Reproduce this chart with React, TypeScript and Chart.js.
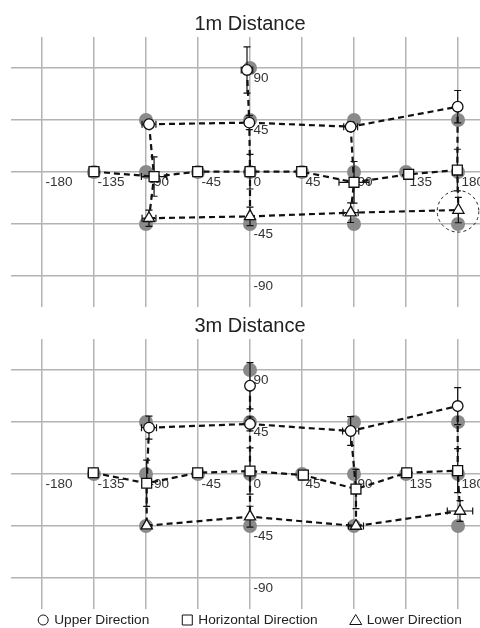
import React, { useEffect, useRef } from 'react';
import { Chart, registerables } from 'chart.js';

Chart.register(...registerables);

const FONT = "'Liberation Sans', Arial, Helvetica, sans-serif";

// Axes (azimuth / elevation, degrees)
const X_TICKS = [-180, -135, -90, -45, 0, 45, 90, 135, 180];
const Y_TICKS = [-90, -45, 0, 45, 90];
const Y_LABEL_TICKS = [-90, -45, 45, 90];
const X_MIN = -206.8;
const X_MAX = 206.8;
const Y_MIN = -116.8;
const Y_MAX = 116.8;

// Target (source) positions – gray dots
const TARGET_AZ = [-90, 0, 0, 90, 180, -135, -90, -45, 0, 45, 90, 135, 180, -90, 0, 90, 180];
const TARGET_EL = [45, 90, 45, 45, 45, 0, 0, 0, 0, 0, 0, 0, 0, -45, -45, -45, -45];

// ---- 1m distance ----
const UP1_AZ = [-87.4, -2.6, -0.6, 87.1, 179.7];
const UP1_EL = [41.3, 88.3, 42.7, 39.2, 56.5];
const UP1_EX = [6, 5, 3, 6, 0];
const UP1_EY = [3, 20, 6, 4, 14];

const HOR1_AZ = [-135, -83, -45.3, 0, 44.7, 90, 137.3, 179.4];
const HOR1_EL = [0.3, -4, 0.3, 0.3, 0.3, -8.9, -2, 1.7];
const HOR1_EX = [0, 11, 0, 0, 0, 13, 3, 0];
const HOR1_EY = [0, 17, 0, 15, 0, 18, 0, 18];

const LOW1_AZ = [-87.4, 0, 87.1, 180.3];
const LOW1_EL = [-40, -38.4, -35.2, -32.9];
const LOW1_EX = [6, 0, 6.5, 0];
const LOW1_EY = [7, 8, 8.5, 11];

// highlighted point (dashed circle) in 1m panel
const HIGHLIGHT1_AZ = [180];
const HIGHLIGHT1_EL = [-34];
const HIGHLIGHT1_R = [18];

// ---- 3m distance ----
const UP3_AZ = [-87.4, 0, 0, 87.1, 179.7];
const UP3_EL = [40.1, 76.4, 43.3, 37.2, 58.8];
const UP3_EX = [6.5, 0, 3, 7, 0];
const UP3_EY = [10, 20, 6, 12.5, 16];

const HOR3_AZ = [-135.6, -89.4, -45.3, 0, 46.2, 91.7, 135.6, 179.7];
const HOR3_EL = [1.1, -8, 1.1, 2.6, -0.9, -13, 1.1, 2.9];
const HOR3_EX = [0, 0, 0, 0, 0, 0, 0, 0];
const HOR3_EY = [0, 20, 0, 20, 0, 17, 0, 19];

const LOW3_AZ = [-89.4, 0, 91.7, 181.7];
const LOW3_EL = [-44.7, -36.9, -45, -32];
const LOW3_EX = [0, 0, 6.5, 11];
const LOW3_EY = [0, 9, 0, 9];

// Connection structure
const UPPER_ROW_IDX = [0, 2, 3, 4];
const COLUMNS: [string, number][][] = [
  [['U', 0], ['H', 1], ['L', 0]],
  [['U', 1], ['U', 2], ['H', 3], ['L', 1]],
  [['U', 3], ['H', 5], ['L', 2]],
  [['U', 4], ['H', 7], ['L', 3]],
];

const LEGEND_LABELS = ['Upper Direction', 'Horizontal Direction', 'Lower Direction'];

const pts = (az: number[], el: number[]) => az.map((a, i) => ({ x: a, y: el[i] }));

const tickLabelPlugin = {
  id: 'tickLabels',
  beforeDatasetsDraw(chart: any) {
    const { ctx } = chart;
    const xs = chart.scales.x;
    const ys = chart.scales.y;
    const x0 = xs.getPixelForValue(0);
    const y0 = ys.getPixelForValue(0);
    ctx.save();
    ctx.font = `13.5px ${FONT}`;
    ctx.fillStyle = '#333';
    ctx.textAlign = 'left';
    ctx.textBaseline = 'middle';
    X_TICKS.forEach((v) => {
      ctx.fillText(String(v), xs.getPixelForValue(v) + 3.5, y0 + 10.5);
    });
    Y_LABEL_TICKS.forEach((v) => {
      ctx.fillText(String(v), x0 + 3.5, ys.getPixelForValue(v) + 10.5);
    });
    ctx.restore();
  },
};

const errorBarPlugin = {
  id: 'errorBars',
  beforeDatasetDraw(chart: any, args: any) {
    const ds = chart.data.datasets[args.index];
    if (!ds.errX) return;
    const { ctx } = chart;
    const xs = chart.scales.x;
    const ys = chart.scales.y;
    const cap = 3.5;
    ctx.save();
    ctx.strokeStyle = '#111';
    ctx.lineWidth = 1.2;
    ctx.setLineDash([]);
    ds.data.forEach((p: any, i: number) => {
      const px = xs.getPixelForValue(p.x);
      const py = ys.getPixelForValue(p.y);
      const ex = ds.errX[i];
      const ey = ds.errY[i];
      ctx.beginPath();
      if (ex > 0) {
        const x1 = xs.getPixelForValue(p.x - ex);
        const x2 = xs.getPixelForValue(p.x + ex);
        ctx.moveTo(x1, py); ctx.lineTo(x2, py);
        ctx.moveTo(x1, py - cap); ctx.lineTo(x1, py + cap);
        ctx.moveTo(x2, py - cap); ctx.lineTo(x2, py + cap);
      }
      if (ey > 0) {
        const y1 = ys.getPixelForValue(p.y + ey);
        const y2 = ys.getPixelForValue(p.y - ey);
        ctx.moveTo(px, y1); ctx.lineTo(px, y2);
        ctx.moveTo(px - cap, y1); ctx.lineTo(px + cap, y1);
        ctx.moveTo(px - cap, y2); ctx.lineTo(px + cap, y2);
      }
      ctx.stroke();
    });
    ctx.restore();
  },
};

const highlightPlugin = {
  id: 'highlight',
  afterDatasetsDraw(chart: any) {
    const hl = chart.config.options.highlight;
    if (!hl) return;
    const { ctx } = chart;
    const xs = chart.scales.x;
    const ys = chart.scales.y;
    ctx.save();
    ctx.strokeStyle = '#222';
    ctx.lineWidth = 1;
    ctx.setLineDash([3, 3]);
    hl.az.forEach((a: number, i: number) => {
      const cx = xs.getPixelForValue(a);
      const cy = ys.getPixelForValue(hl.el[i]);
      const r = Math.abs(xs.getPixelForValue(a + hl.r[i]) - cx);
      ctx.beginPath();
      ctx.arc(cx, cy, r, 0, Math.PI * 2);
      ctx.stroke();
    });
    ctx.restore();
  },
};

const legendPlugin = {
  id: 'markerLegend',
  afterDraw(chart: any) {
    if (!chart.config.options.markerLegend) return;
    const { ctx, chartArea } = chart;
    const items = chart.data.datasets.filter((d: any) => d.legendMarker);
    const fontSize = 13.7;
    const sym = 10;
    const gapSym = 6;
    const gapItem = 33;
    ctx.save();
    ctx.font = `${fontSize}px ${FONT}`;
    const widths = items.map((d: any) => ctx.measureText(d.label).width);
    const total = widths.reduce((s: number, w: number) => s + sym + gapSym + w, 0) + gapItem * (items.length - 1);
    let x = (chartArea.left + chartArea.right) / 2 - total / 2;
    const y = chartArea.bottom + 11;
    items.forEach((d: any, i: number) => {
      const cx = x + sym / 2;
      ctx.beginPath();
      ctx.setLineDash([]);
      ctx.lineWidth = 1;
      ctx.strokeStyle = '#111';
      ctx.fillStyle = '#fff';
      if (d.pointStyle === 'circle') {
        ctx.arc(cx, y, 5, 0, Math.PI * 2);
      } else if (d.pointStyle === 'rect') {
        ctx.rect(cx - 5, y - 5, 10, 10);
      } else {
        ctx.moveTo(cx, y - 5.5);
        ctx.lineTo(cx + 6, y + 4.5);
        ctx.lineTo(cx - 6, y + 4.5);
        ctx.closePath();
      }
      ctx.fill();
      ctx.stroke();
      ctx.fillStyle = '#222';
      ctx.textAlign = 'left';
      ctx.textBaseline = 'middle';
      ctx.fillText(d.label, x + sym + gapSym, y + 0.5);
      x += sym + gapSym + widths[i] + gapItem;
    });
    ctx.restore();
  },
};

type PanelData = {
  title: string;
  up: { x: number; y: number }[]; upEx: number[]; upEy: number[];
  hor: { x: number; y: number }[]; horEx: number[]; horEy: number[];
  low: { x: number; y: number }[]; lowEx: number[]; lowEy: number[];
  highlight?: { az: number[]; el: number[]; r: number[] };
  legend: boolean;
  bottomPad: number;
};

function makeConfig(p: PanelData): any {
  const series: Record<string, { x: number; y: number }[]> = { U: p.up, H: p.hor, L: p.low };
  const lineStyle = {
    showLine: true,
    borderColor: '#111',
    borderWidth: 2.2,
    borderDash: [6, 4],
    pointRadius: 0,
    pointHoverRadius: 0,
    fill: false,
    tension: 0,
    order: 2,
  };
  const datasets: any[] = [
    {
      label: 'targets',
      data: pts(TARGET_AZ, TARGET_EL),
      pointRadius: 7,
      pointBackgroundColor: '#8a8a8a',
      pointBorderWidth: 0,
      showLine: false,
      order: 3,
    },
    { label: 'upper-row', data: UPPER_ROW_IDX.map((i) => p.up[i]), ...lineStyle },
    { label: 'hor-row', data: p.hor, ...lineStyle },
    { label: 'low-row', data: p.low, ...lineStyle },
    ...COLUMNS.map((col, ci) => ({
      label: 'col-' + ci,
      data: col.map(([s, i]) => series[s][i]),
      ...lineStyle,
    })),
    {
      label: LEGEND_LABELS[0], legendMarker: true, pointStyle: 'circle',
      data: p.up, errX: p.upEx, errY: p.upEy,
      pointRadius: 5.3, pointBackgroundColor: '#fff', pointBorderColor: '#111', pointBorderWidth: 1.3,
      showLine: false, order: 0,
    },
    {
      label: LEGEND_LABELS[1], legendMarker: true, pointStyle: 'rect',
      data: p.hor, errX: p.horEx, errY: p.horEy,
      pointRadius: 7, pointBackgroundColor: '#fff', pointBorderColor: '#111', pointBorderWidth: 1.3,
      showLine: false, order: 0,
    },
    {
      label: LEGEND_LABELS[2], legendMarker: true, pointStyle: 'triangle',
      data: p.low, errX: p.lowEx, errY: p.lowEy,
      pointRadius: 6.5, pointBackgroundColor: '#fff', pointBorderColor: '#111', pointBorderWidth: 1.3,
      showLine: false, order: 0,
    },
  ];
  const grid = { color: '#b3b3b3', lineWidth: 1.5, drawTicks: false };
  return {
    type: 'scatter',
    data: { datasets },
    options: {
      animation: false,
      responsive: false,
      devicePixelRatio: 1,
      events: [],
      highlight: p.highlight,
      markerLegend: p.legend,
      layout: { autoPadding: false, padding: { left: 11, right: 11, top: 0, bottom: p.bottomPad } },
      plugins: {
        legend: { display: false },
        tooltip: { enabled: false },
        title: {
          display: true,
          text: p.title,
          color: '#222',
          font: { family: FONT, size: 20, weight: 'normal', lineHeight: 1.2 },
          padding: { top: 12, bottom: 1 },
        },
      },
      scales: {
        x: {
          type: 'linear',
          min: X_MIN,
          max: X_MAX,
          grid,
          border: { display: false },
          ticks: { display: false },
          afterBuildTicks: (scale: any) => { scale.ticks = X_TICKS.map((v) => ({ value: v })); },
        },
        y: {
          type: 'linear',
          min: Y_MIN,
          max: Y_MAX,
          grid,
          border: { display: false },
          ticks: { display: false },
          afterBuildTicks: (scale: any) => { scale.ticks = Y_TICKS.map((v) => ({ value: v })); },
        },
      },
    },
    plugins: [tickLabelPlugin, errorBarPlugin, highlightPlugin, legendPlugin],
  };
}

const PANEL_1M: PanelData = {
  title: '1m Distance',
  up: pts(UP1_AZ, UP1_EL), upEx: UP1_EX, upEy: UP1_EY,
  hor: pts(HOR1_AZ, HOR1_EL), horEx: HOR1_EX, horEy: HOR1_EY,
  low: pts(LOW1_AZ, LOW1_EL), lowEx: LOW1_EX, lowEy: LOW1_EY,
  highlight: { az: HIGHLIGHT1_AZ, el: HIGHLIGHT1_EL, r: HIGHLIGHT1_R },
  legend: false,
  bottomPad: 3,
};

const PANEL_3M: PanelData = {
  title: '3m Distance',
  up: pts(UP3_AZ, UP3_EL), upEx: UP3_EX, upEy: UP3_EY,
  hor: pts(HOR3_AZ, HOR3_EL), horEx: HOR3_EX, horEy: HOR3_EY,
  low: pts(LOW3_AZ, LOW3_EL), lowEx: LOW3_EX, lowEy: LOW3_EY,
  legend: true,
  bottomPad: 19,
};

function Panel({ data, top, height }: { data: PanelData; top: number; height: number }) {
  const ref = useRef<HTMLCanvasElement>(null);
  useEffect(() => {
    if (!ref.current) return;
    const chart = new Chart(ref.current, makeConfig(data));
    return () => chart.destroy();
  }, [data]);
  return (
    <canvas
      ref={ref}
      width={500}
      height={height}
      style={{ position: 'absolute', left: 0, top, width: 500, height, display: 'block' }}
    />
  );
}

export default function App() {
  return (
    <div
      style={{
        position: 'fixed',
        left: 0,
        top: 0,
        width: 480,
        height: 628,
        overflow: 'hidden',
        background: '#fff',
      }}
    >
      <Panel data={PANEL_1M} top={0} height={310} />
      <Panel data={PANEL_3M} top={302} height={326} />
    </div>
  );
}
